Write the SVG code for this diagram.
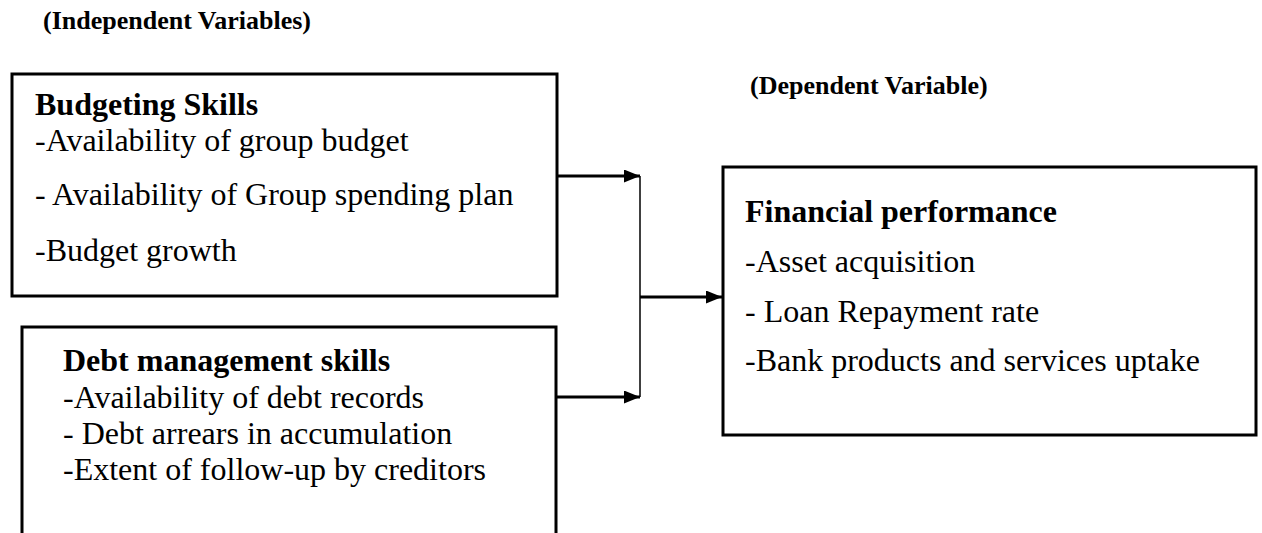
<svg xmlns="http://www.w3.org/2000/svg" width="1262" height="533" viewBox="0 0 1262 533">
<style>
.box{fill:#fff;stroke:#000;stroke-width:3}
.t{font-family:"Liberation Serif","Times New Roman",serif;font-size:32px;fill:#000}
.b{font-weight:bold}
.h{font-family:"Liberation Serif","Times New Roman",serif;font-size:26px;font-weight:bold;fill:#000}
.c{stroke:#000;fill:none}
</style>
<defs>
<marker id="ah" viewBox="0 0 10 10" refX="10" refY="5" markerWidth="16" markerHeight="13" markerUnits="userSpaceOnUse" orient="auto" preserveAspectRatio="none">
<path d="M0,0 L10,5 L0,10 z" fill="#000"/>
</marker>
</defs>
<rect width="1262" height="533" fill="#fff"/>
<text class="h" x="43" y="29">(Independent Variables)</text>
<text class="h" x="750" y="94">(Dependent Variable)</text>
<g id="budgeting">
<rect class="box" x="12" y="74" width="545" height="222"/>
<text class="t b" x="35" y="115">Budgeting Skills</text>
<text class="t" x="35" y="151">-Availability of group budget</text>
<text class="t" x="35" y="205">- Availability of Group spending plan</text>
<text class="t" x="35" y="261">-Budget growth</text>
</g>
<g id="debt">
<rect class="box" x="22" y="327" width="534" height="220"/>
<text class="t b" x="63" y="371">Debt management skills</text>
<text class="t" x="63" y="408">-Availability of debt records</text>
<text class="t" x="63" y="444">- Debt arrears in accumulation</text>
<text class="t" x="63" y="480">-Extent of follow-up by creditors</text>
</g>
<g id="financial">
<rect class="box" x="723" y="167" width="533" height="268"/>
<text class="t b" x="745" y="222">Financial performance</text>
<text class="t" x="745" y="272">-Asset acquisition</text>
<text class="t" x="745" y="322">- Loan Repayment rate</text>
<text class="t" x="745" y="371">-Bank products and services uptake</text>
</g>
<g id="connectors">
<line class="c" x1="557" y1="176" x2="640" y2="176" stroke-width="3" marker-end="url(#ah)"/>
<line class="c" x1="556" y1="397" x2="640" y2="397" stroke-width="3" marker-end="url(#ah)"/>
<line class="c" x1="640" y1="176" x2="640" y2="397" stroke-width="1.5"/>
<line class="c" x1="640" y1="297" x2="722" y2="297" stroke-width="3" marker-end="url(#ah)"/>
</g>
</svg>
